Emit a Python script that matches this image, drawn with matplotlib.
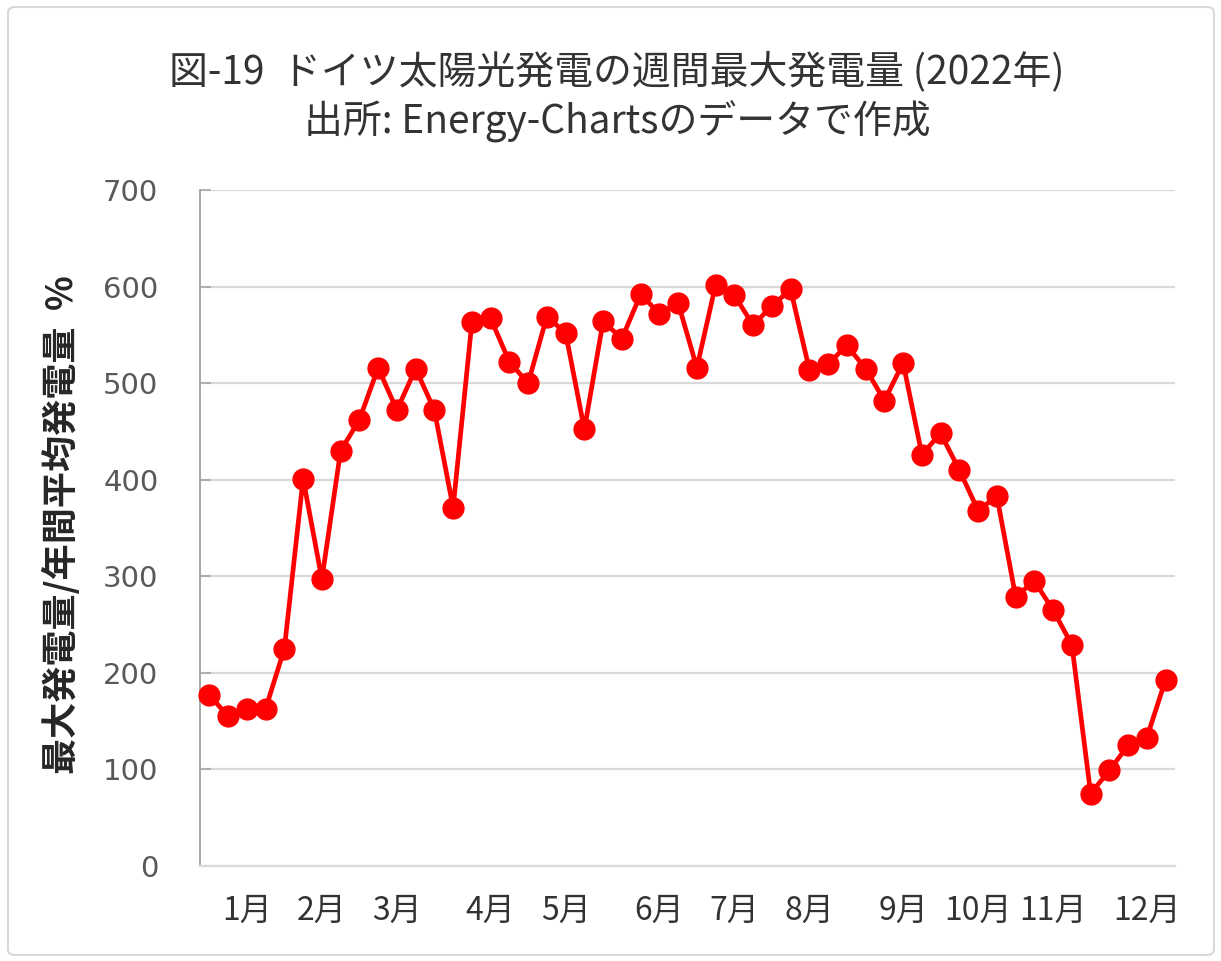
import matplotlib.pyplot as plt
from matplotlib.patches import FancyBboxPatch

# weekly max output relative to annual average (%), 52 weeks of 2022
weeks = list(range(52))
peak_ratio = [177, 155, 163, 163, 225, 401, 297, 430, 462, 516,
              472, 515, 472, 371, 563, 567, 522, 500, 569, 552,
              452, 564, 546, 592, 572, 583, 516, 602, 591, 560,
              580, 597, 514, 520, 539, 515, 482, 521, 426, 448,
              410, 368, 383, 279, 295, 265, 229, 75, 99, 125,
              133, 193]

month_weeks = [2, 6, 10, 15, 19, 24, 28, 32, 37, 41, 45, 50]
month_labels = ['1月', '2月', '3月', '4月', '5月', '6月',
                '7月', '8月', '9月', '10月', '11月', '12月']

y_ticks = [0, 100, 200, 300, 400, 500, 600, 700]

JP = ['Noto Sans CJK JP', 'DejaVu Sans']


def main():
    fig = plt.figure(figsize=(12.21, 9.61), dpi=100)
    add_border(fig)
    ax = fig.add_axes([200 / 1221, 1 - 866 / 961, 975 / 1221, 676 / 961])
    plot_series(ax)
    style_axes(ax)
    add_texts(fig)
    fig.savefig('out.png', dpi=100)


def add_border(fig):
    box = FancyBboxPatch((8 / 1221, 6 / 961), 1206 / 1221, 948 / 961,
                         boxstyle='round,pad=0,rounding_size=0.006',
                         transform=fig.transFigure, fill=False,
                         edgecolor='#d9d9d9', linewidth=1.5)
    fig.patches.append(box)


def plot_series(ax):
    ax.plot(weeks, peak_ratio, color='#ff0000', linewidth=3.4,
            marker='o', markersize=15, zorder=3, clip_on=False)


def style_axes(ax):
    ax.set_xlim(-0.5, 51.5)
    ax.set_ylim(0, 700)
    ax.set_yticks(y_ticks)
    ax.set_yticklabels([str(v) for v in y_ticks], fontsize=21,
                       color='#595959', family='DejaVu Sans')
    ax.set_xticks(month_weeks)
    ax.set_xticklabels(month_labels, fontsize=23, color='#333333', family=JP)
    ax.tick_params(axis='x', length=0, pad=21)
    ax.tick_params(axis='y', direction='in', length=8, color='#a6a6a6',
                   width=1.2, pad=30)
    ax.grid(axis='y', color='#d9d9d9', linewidth=1.6)
    ax.set_axisbelow(True)
    for side in ['top', 'right']:
        ax.spines[side].set_visible(False)
    ax.spines['left'].set_color('#a6a6a6')
    ax.spines['bottom'].set_color('#d9d9d9')
    ax.spines['left'].set_linewidth(1.4)
    ax.spines['bottom'].set_linewidth(1.6)


def add_texts(fig):
    fig.text(617 / 1221, 1 - 72 / 961,
             '図-19  ドイツ太陽光発電の週間最大発電量 (2022年)',
             ha='center', va='center', fontsize=28, color='#333333', family=JP)
    fig.text(617 / 1221, 1 - 122 / 961,
             '出所: Energy-Chartsのデータで作成',
             ha='center', va='center', fontsize=28, color='#333333', family=JP)
    fig.text(62 / 1221, 1 - 525 / 961, '最大発電量/年間平均発電量  %',
             ha='center', va='center', rotation=90, fontsize=26,
             fontweight='bold', color='#262626', family=JP)


if __name__ == "__main__":
    main()
